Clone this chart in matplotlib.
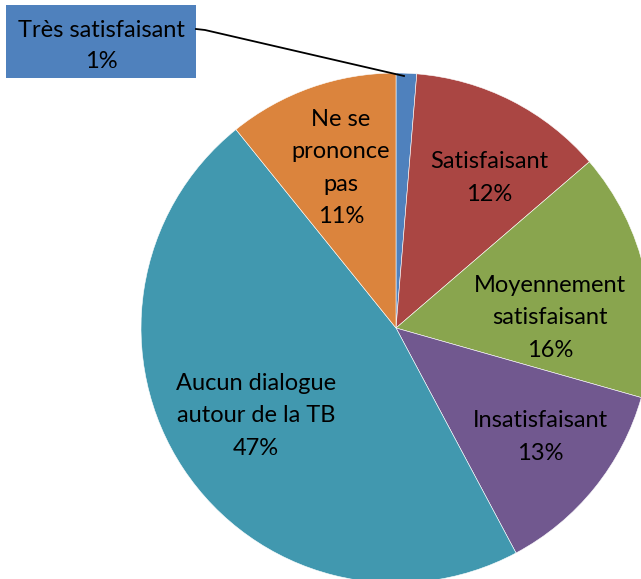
import matplotlib
matplotlib.use("Agg")
import matplotlib.pyplot as plt
from matplotlib.patches import Rectangle

plt.rcParams["font.family"] = ["Lato", "DejaVu Sans"]

# slice data (clockwise from 12 o'clock)
categories = ["Très satisfaisant", "Satisfaisant", "Moyennement\nsatisfaisant",
              "Insatisfaisant", "Aucun dialogue\nautour de la TB", "Ne se\nprononce\npas"]
values = [1.3, 12.4, 15.7, 12.8, 47.0, 10.8]
colors = ["#4F81BD", "#AA4643", "#89A54E", "#71588F", "#4198AF", "#DB843D"]

W, H = 641, 579
fig = plt.figure(figsize=(W / 100, H / 100), dpi=100)
ax = fig.add_axes([0, 0, 1, 1])

cx, cy, r = 396, H - 328, 255
ax.pie(values, colors=colors, startangle=90, counterclock=False,
       center=(cx, cy), radius=r, frame=True,
       wedgeprops=dict(edgecolor="white", linewidth=0.4))

# label centres in pixel coords (x, y from top)
label_pos = [None, (489, 178), (550, 318), (540, 437), (256, 416), (341, 168)]
for cat, val, pos in zip(categories, values, label_pos):
    if pos is None:
        continue
    ax.text(pos[0], H - pos[1], f"{cat}\n{round(val)}%", ha="center", va="center",
            fontsize=17, linespacing=1.68, color="black")

# callout box for the tiny slice
ax.add_patch(Rectangle((6, H - 78), 190, 73, facecolor=colors[0], edgecolor="none", zorder=3))
ax.text(101, H - 46, f"{categories[0]}\n{round(values[0])}%", ha="center", va="center",
        fontsize=17, linespacing=1.6, color="black", zorder=4)
ax.plot([196, 205, 404], [H - 29, H - 30, H - 76], color="black", lw=1.3, zorder=4)

ax.set_xlim(0, W)
ax.set_ylim(0, H)
ax.set_aspect("auto")
ax.axis("off")

fig.savefig("out.png", dpi=100)
